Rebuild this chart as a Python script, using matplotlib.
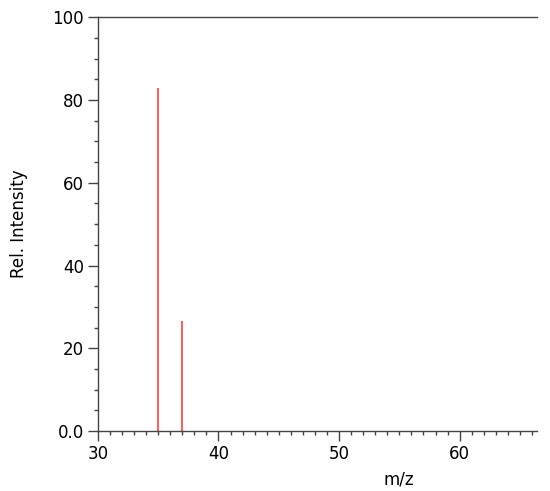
import matplotlib
matplotlib.use('Agg')
import matplotlib.pyplot as plt
from matplotlib.ticker import MultipleLocator, FixedLocator

plt.rcParams['font.family'] = 'DejaVu Sans'

# peak data (m/z, relative intensity)
mz = [35, 37]
intensity = [82.9, 26.5]

x_ticks = [30, 40, 50, 60]
y_ticks = [0, 20, 40, 60, 80, 100]
y_tick_labels = ['0.0', '20', '40', '60', '80', '100']

fig = plt.figure(figsize=(5.5, 4.91), dpi=100)
ax = fig.add_axes([0.178, 0.122, 0.798, 0.843])

ax.vlines(mz, 0, intensity, color='#ff4d4d', linewidth=1.3)

ax.set_xlim(30, 66.4)
ax.set_ylim(0, 100)

ax.xaxis.set_major_locator(FixedLocator(x_ticks))
ax.xaxis.set_minor_locator(MultipleLocator(1))
ax.set_yticks(y_ticks)
ax.set_yticklabels(y_tick_labels)
ax.yaxis.set_minor_locator(MultipleLocator(5))

spine_col = '#444444'
ax.spines['right'].set_visible(False)
for s in ['left', 'bottom', 'top']:
    ax.spines[s].set_color(spine_col)
    ax.spines[s].set_linewidth(1.0)

ax.tick_params(which='major', direction='out', length=7, width=1, color=spine_col, labelsize=12, pad=3)
ax.tick_params(which='minor', direction='out', length=3, width=1, color=spine_col)

ax.set_ylabel('Rel. Intensity', fontsize=12)
ax.yaxis.set_label_coords(-0.160, 0.5)
ax.set_xlabel('m/z', fontsize=12)
ax.xaxis.set_label_coords(0.686, -0.095)

fig.savefig('out.png', dpi=100)
